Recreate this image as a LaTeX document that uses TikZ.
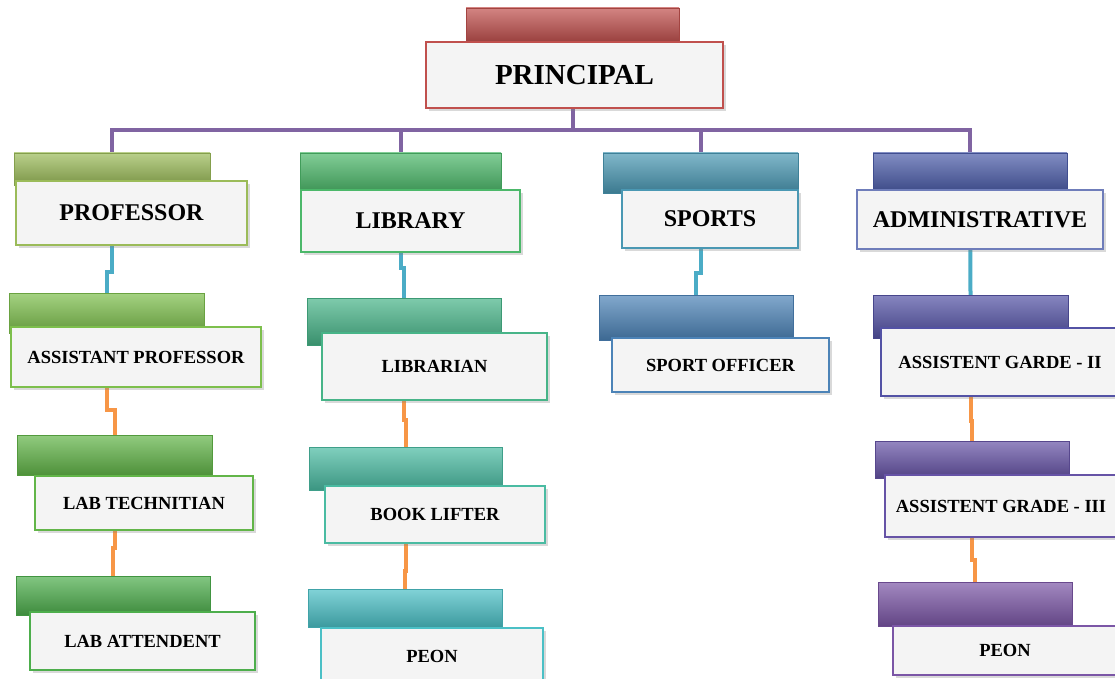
\documentclass[tikz,border=0pt]{standalone}
\usepackage{fontspec}
\setmainfont{Liberation Serif}
\usepackage{xcolor}
\usepackage{tikz}
\usetikzlibrary{shadows,backgrounds}

\definecolor{prinred}{HTML}{C0504D}
\definecolor{profgreen}{HTML}{9BBB59}
\definecolor{aspgreen}{HTML}{7DBF4C}
\definecolor{labtgreen}{HTML}{62B548}
\definecolor{labagreen}{HTML}{4DAE4C}
\definecolor{libgreen}{HTML}{4CB86A}
\definecolor{libnteal}{HTML}{47B488}
\definecolor{bookteal}{HTML}{4ABBA2}
\definecolor{peoncyan}{HTML}{4BC0C6}
\definecolor{spoteal}{HTML}{4A98B3}
\definecolor{spofblue}{HTML}{4C83B7}
\definecolor{admblue}{HTML}{4B5CA9}
\definecolor{agtwo}{HTML}{5352A5}
\definecolor{agthree}{HTML}{6653A6}
\definecolor{peonviolet}{HTML}{7B56A6}
\definecolor{boxfill}{HTML}{F4F4F4}
\definecolor{linepurple}{HTML}{8064A2}
\definecolor{lineblue}{HTML}{4BACC6}
\definecolor{lineorange}{HTML}{F79646}

\begin{document}
\begin{tikzpicture}[x=1pt,y=-1pt,
    bar/.style={draw=#1!85!black, line width=.6pt, top color=#1!70!white,
      middle color=#1, bottom color=#1!80!black, inner sep=0pt, outer sep=0pt},
    box/.style={draw=#1, line width=1.6pt, fill=boxfill, inner sep=0pt, outer sep=0pt,
      drop shadow={shadow xshift=2.5pt, shadow yshift=-3pt, opacity=.3},
      font=\bfseries\fontsize{18.5}{20}\selectfont},
    topbox/.style={box=#1, font=\bfseries\fontsize{24}{26}\selectfont},
    link/.style={line width=4pt, #1}]
  \useasboundingbox (0,0) rectangle (1115,679);

  % principal
  \node[bar=prinred, minimum width=213pt, minimum height=34pt] (prinbar) at (572.5,25) {};
  \node[box=prinred, minimum width=297pt, minimum height=66pt,
    font=\bfseries\fontsize{29}{31}\selectfont] (prin) at (574.5,75) {PRINCIPAL};

  % first row
  \node[bar=profgreen, minimum width=196pt, minimum height=32pt] (profbar) at (112,169) {};
  \node[topbox=profgreen, minimum width=231pt, minimum height=64pt] (prof) at (131.5,213) {PROFESSOR};
  \node[bar=libgreen, minimum width=201pt, minimum height=39pt] (libbar) at (400.5,172.5) {};
  \node[topbox=libgreen, minimum width=219pt, minimum height=62pt] (lib) at (410.5,221) {LIBRARY};
  \node[bar=spoteal, minimum width=195pt, minimum height=40pt] (spobar) at (700.5,173) {};
  \node[topbox=spoteal, minimum width=176pt, minimum height=58pt] (spo) at (710,219) {SPORTS};
  \node[bar=admblue, minimum width=194pt, minimum height=39pt] (admbar) at (970,172.5) {};
  \node[topbox=admblue!80!white, minimum width=246pt, minimum height=59pt] (adm) at (980,219.5) {ADMINISTRATIVE};

  % second row
  \node[bar=aspgreen, minimum width=195pt, minimum height=40pt] (aspbar) at (106.5,313) {};
  \node[box=aspgreen, minimum width=250pt, minimum height=60pt] (asp) at (136,357) {ASSISTANT PROFESSOR};
  \node[bar=libnteal, minimum width=194pt, minimum height=47pt] (libnbar) at (404,321.5) {};
  \node[box=libnteal, minimum width=225pt, minimum height=67pt] (libn) at (434.5,366.5) {LIBRARIAN};
  \node[bar=spofblue, minimum width=194pt, minimum height=45pt] (spofbar) at (696,317.5) {};
  \node[box=spofblue, minimum width=217pt, minimum height=54pt] (spof) at (720.5,365) {SPORT OFFICER};
  \node[bar=agtwo, minimum width=195pt, minimum height=43pt] (agtwobar) at (970.5,316.5) {};
  \node[box=agtwo, minimum width=238pt, minimum height=68pt] (agtwo) at (1000,362) {ASSISTENT GARDE - II};

  % third row
  \node[bar=labtgreen, minimum width=195pt, minimum height=40pt] (labtbar) at (114.5,455) {};
  \node[box=labtgreen, minimum width=218pt, minimum height=54pt] (labt) at (144,503) {LAB TECHNITIAN};
  \node[bar=bookteal, minimum width=193pt, minimum height=43pt] (bookbar) at (405.5,468.5) {};
  \node[box=bookteal, minimum width=220pt, minimum height=57pt] (book) at (435,514.5) {BOOK LIFTER};
  \node[bar=agthree, minimum width=194pt, minimum height=37pt] (agthreebar) at (972,459.5) {};
  \node[box=agthree, minimum width=232pt, minimum height=62pt] (agthree) at (1001,506) {ASSISTENT GRADE - III};

  % fourth row
  \node[bar=labagreen, minimum width=194pt, minimum height=39pt] (lababar) at (113,595.5) {};
  \node[box=labagreen, minimum width=225pt, minimum height=58pt] (laba) at (142.5,641) {LAB ATTENDENT};
  \node[bar=peoncyan, minimum width=194pt, minimum height=38pt] (peonabar) at (405,608) {};
  \node[box=peoncyan, minimum width=222pt, minimum height=56pt] (peona) at (432,656) {PEON};
  \node[bar=peonviolet, minimum width=194pt, minimum height=44pt] (peonbbar) at (975,604) {};
  \node[box=peonviolet, minimum width=224pt, minimum height=49pt] (peonb) at (1005,650.5) {PEON};

  \coordinate (hub) at (572.5,130);

  \begin{scope}[on background layer]
    \draw[link=linepurple] (prinbar.center) -- (hub);
    \draw[link=linepurple] (profbar.north) |- (hub) -| (admbar.north);
    \draw[link=linepurple] (libbar.north) -- (libbar.north |- hub);
    \draw[link=linepurple] (spobar.north) -- (spobar.north |- hub);

    \draw[link=lineblue] (profbar.center) -- ++(0,103) -| (aspbar.north);
    \draw[link=lineblue] (libbar.center) -- ++(0,95) -| (libnbar.north);
    \draw[link=lineblue] (spobar.center) -- ++(0,100) -| (spofbar.north);
    \draw[link=lineblue] (admbar.center) -- (agtwobar.north);

    \draw[link=lineorange] (aspbar.center) -- ++(0,97) -| (labtbar.north);
    \draw[link=lineorange] (labtbar.center) -- ++(0,93) -| (lababar.north);
    \draw[link=lineorange] (libnbar.center) -- ++(0,98) -| (bookbar.north);
    \draw[link=lineorange] (bookbar.center) -- ++(0,102) -| (peonabar.north);
    \draw[link=lineorange] (agtwobar.center) -- ++(0,104) -| (agthreebar.north);
    \draw[link=lineorange] (agthreebar.center) -- ++(0,100) -| (peonbbar.north);
  \end{scope}
\end{tikzpicture}
\end{document}
